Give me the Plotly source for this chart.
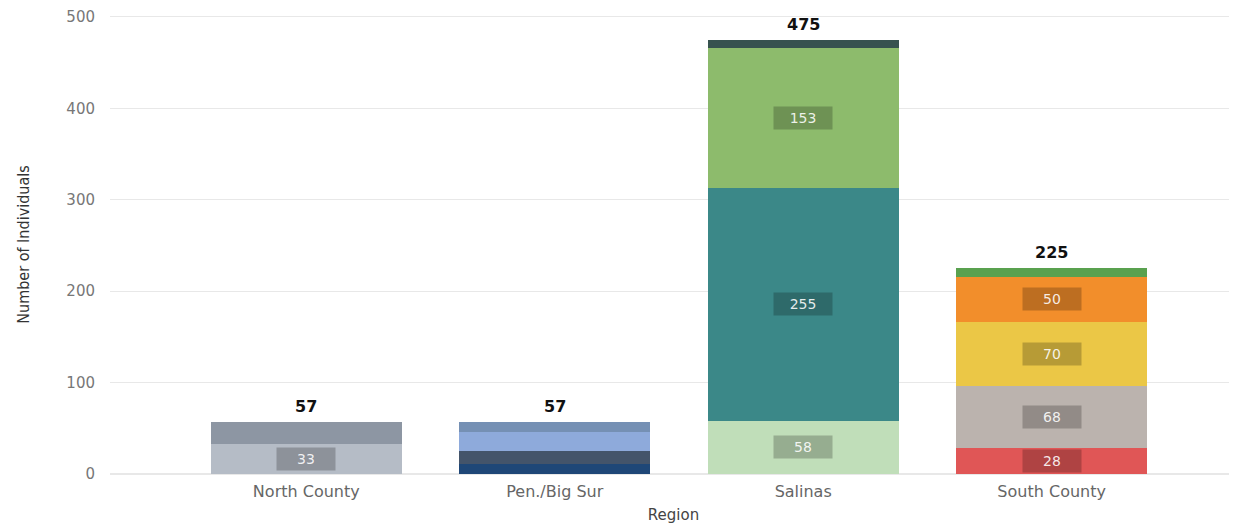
import plotly.graph_objects as go

# ---- data ----
regions = ["North County", "Pen./Big Sur", "Salinas", "South County"]
north_values = [33, 24]
pen_values = [11, 14, 21, 11]
salinas_values = [58, 255, 153, 9]
south_values = [28, 68, 70, 50, 9]

# ---- styles ----
north_colors = ["#b5bcc6", "#8d96a3"]
pen_colors = ["#1f4777", "#44546a", "#8eaadb", "#7590b4"]
salinas_colors = ["#c0deb9", "#3b8888", "#8dbb6c", "#37524f"]
south_colors = ["#e05656", "#bbb3ae", "#ebc746", "#f28e2b", "#59a14f"]
label_min = 25  # segments smaller than this are not labelled

region_values = [north_values, pen_values, salinas_values, south_values]
region_colors = [north_colors, pen_colors, salinas_colors, south_colors]

fig = go.Figure()
annotations = []
for region, vals, cols in zip(regions, region_values, region_colors):
    base = 0
    for v, c in zip(vals, cols):
        fig.add_trace(go.Bar(
            x=[region], y=[v], marker=dict(color=c, line=dict(width=0)),
            width=0.77, showlegend=False, hoverinfo="x+y",
        ))
        if v >= label_min:
            annotations.append(dict(
                x=region, y=base + v / 2, xref="x", yref="y", text=str(v),
                showarrow=False, bgcolor="rgba(0,0,0,0.22)", width=56, height=20,
                borderpad=1,
                font=dict(family="DejaVu Sans", size=14, color="rgba(255,255,255,0.88)"),
            ))
        base += v
    annotations.append(dict(
        x=region, y=base, xref="x", yref="y", text="<b>%d</b>" % base,
        showarrow=False, yanchor="bottom", yshift=4,
        font=dict(family="DejaVu Sans", size=16, color="#111111"),
    ))

fig.update_layout(
    barmode="stack",
    width=1229, height=517,
    margin=dict(l=102, r=0, t=5, b=51),
    paper_bgcolor="white", plot_bgcolor="white",
    annotations=annotations,
    xaxis=dict(
        range=[-0.79, 3.746],
        title=dict(text="Region", font=dict(family="DejaVu Sans", size=15, color="#444444"), standoff=9),
        tickfont=dict(family="DejaVu Sans", size=16, color="#666666"),
        showgrid=False, zeroline=False, showline=False,
        ticklabelstandoff=6,
    ),
    yaxis=dict(
        range=[0, 502],
        tickvals=[0, 100, 200, 300, 400, 500],
        title=dict(text="Number of Individuals", font=dict(family="DejaVu Sans Condensed", size=16, color="#333333"), standoff=32),
        tickfont=dict(family="DejaVu Sans", size=15, color="#777777"),
        gridcolor="#e8e8e8", zeroline=True, zerolinecolor="#e8e8e8",
        ticklabelstandoff=14, ticklabeloverflow="allow",
    ),
)

fig.write_html("out.html")
